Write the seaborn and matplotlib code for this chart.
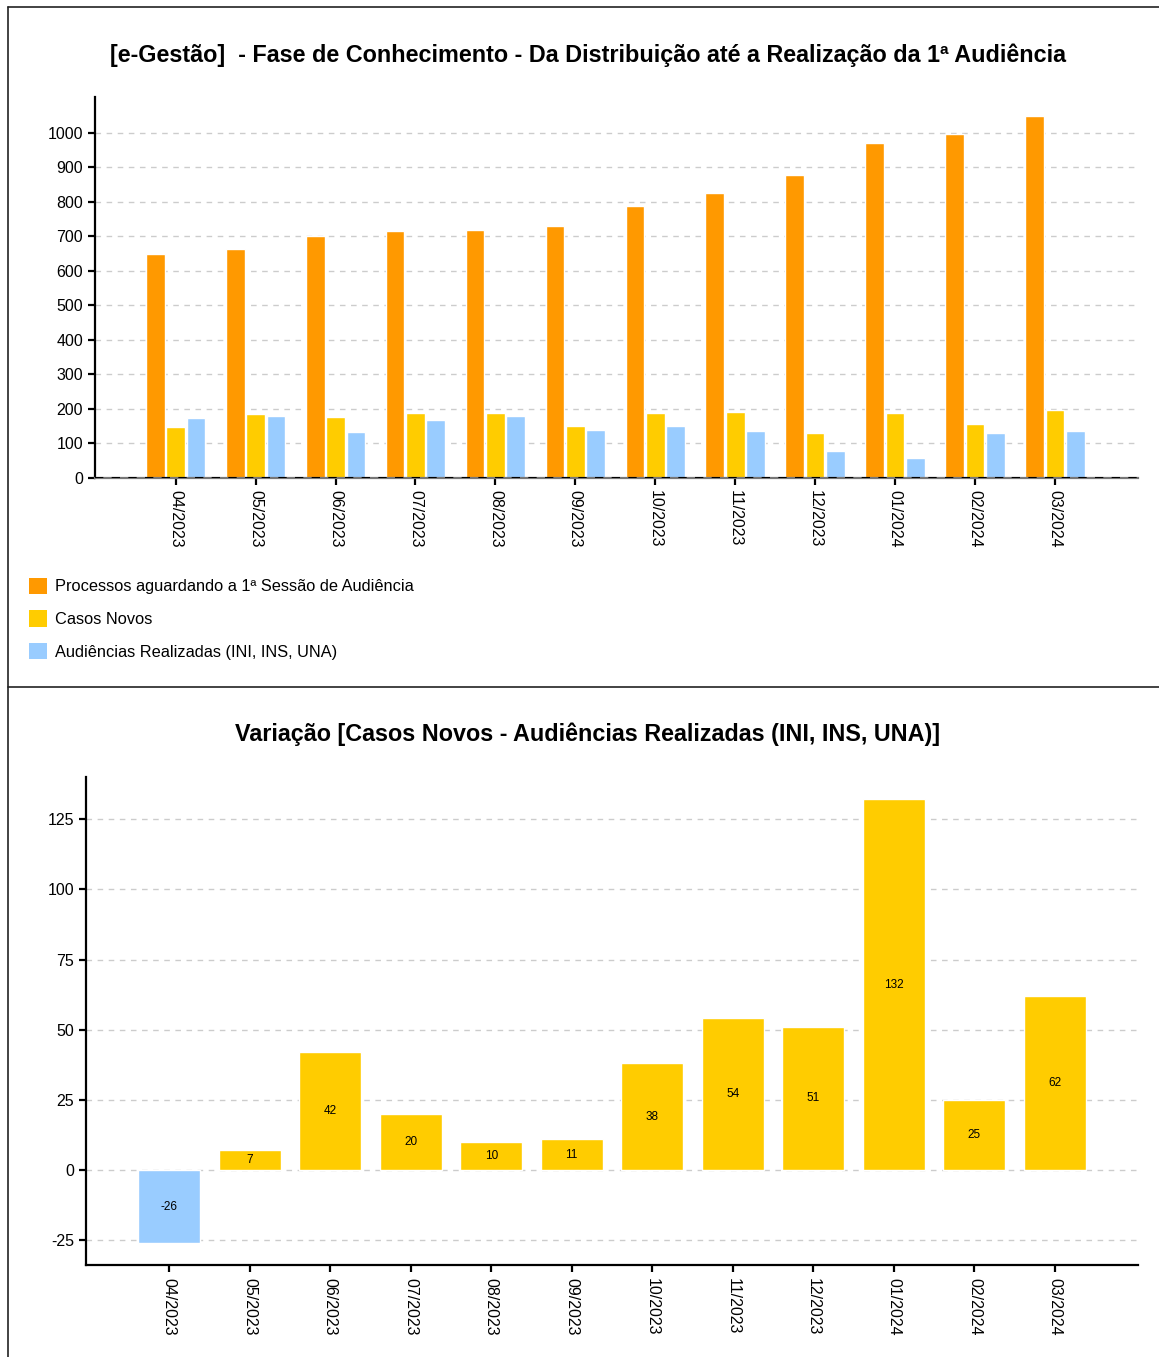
import numpy as np
import pandas as pd
import seaborn as sns
import matplotlib.pyplot as plt
from matplotlib.lines import Line2D
from matplotlib.patches import Patch

# ========================
# Datos
# ========================
meses = ["04/2023", "05/2023", "06/2023", "07/2023", "08/2023", "09/2023",
         "10/2023", "11/2023", "12/2023", "01/2024", "02/2024", "03/2024"]
aguardando = [648, 662, 700, 714, 717, 729, 787, 824, 876, 969, 995, 1047]
casos_novos = [147, 185, 174, 187, 188, 149, 188, 189, 128, 188, 155, 197]
audiencias = [173, 178, 132, 167, 178, 138, 150, 135, 77, 56, 130, 135]

series = ["Processos aguardando a 1ª Sessão de Audiência",
          "Casos Novos",
          "Audiências Realizadas (INI, INS, UNA)"]
cores = ["#FF9900", "#FFCC00", "#99CCFF"]

variacao = [c - a for c, a in zip(casos_novos, audiencias)]

df = pd.DataFrame({"Mes": meses, series[0]: aguardando,
                   series[1]: casos_novos, series[2]: audiencias})
df_long = df.melt(id_vars="Mes", var_name="Serie", value_name="Valor")

df_var = pd.DataFrame({"Mes": meses, "Variacao": variacao})
cores_var = {m: (cores[2] if v < 0 else cores[1]) for m, v in zip(meses, variacao)}

# ========================
# Estilo
# ========================
sns.set_theme(style="white")
plt.rcParams["font.family"] = ["Liberation Sans", "DejaVu Sans"]
plt.rcParams["text.color"] = "black"
plt.rcParams["xtick.color"] = "black"
plt.rcParams["ytick.color"] = "black"
plt.rcParams["axes.labelcolor"] = "black"
plt.rcParams["axes.unicode_minus"] = False

W, H = 1159, 1357
fig = plt.figure(figsize=(W / 100, H / 100), dpi=100)

grid_kw = dict(color="#cccccc", linestyle=(0, (4, 4)), linewidth=1.0)

# ========================
# Gráfico 1
# ========================
ax1 = fig.add_axes([95 / W, 1 - 477.5 / H, (1138 - 95) / W, (477.5 - 97) / H])
sns.barplot(data=df_long, x="Mes", y="Valor", hue="Serie", palette=cores,
            width=0.765, gap=0.08, saturation=1, ax=ax1, legend=False, zorder=2)
ax1.set_ylim(0, 1103)
ax1.set_xlim(-1.01, 12.04)
ax1.set_yticks(range(0, 1001, 100))
for v in range(100, 1001, 100):
    ax1.axhline(v, zorder=0, **grid_kw)
ax1.axhline(0, color="black", linestyle=(0, (4, 4)), linewidth=1.5, zorder=3)
ax1.set_xlabel("")
ax1.set_ylabel("")
for s in ["top", "right"]:
    ax1.spines[s].set_visible(False)
ax1.spines["left"].set_color("black")
ax1.spines["left"].set_linewidth(1.6)
ax1.spines["bottom"].set_color("#777777")
ax1.spines["bottom"].set_linewidth(1.6)
ax1.tick_params(axis="both", direction="out", length=5, width=1.6, color="black",
                labelcolor="black", labelsize=11.5, bottom=True, left=True)
ax1.tick_params(axis="x", labelrotation=270, pad=4)

fig.text(588 / W, 1 - 55 / H,
         "[e-Gestão]  - Fase de Conhecimento - Da Distribuição até a Realização da 1ª Audiência",
         ha="center", va="center", fontsize=16.8, fontweight="bold", color="black")

handles = [Patch(facecolor=c, edgecolor="none") for c in cores]
fig.legend(handles, series, loc="upper left", bbox_to_anchor=(22 / W, 1 - 571 / H),
           frameon=False, fontsize=11.8, handlelength=1.15, handleheight=1.15,
           labelspacing=0.98, handletextpad=0.45, borderaxespad=0)

# ========================
# Gráfico 2
# ========================
ax2 = fig.add_axes([86 / W, 1 - 1265 / H, (1138 - 86) / W, (1265 - 777) / H])
sns.barplot(data=df_var, x="Mes", y="Variacao", hue="Mes", palette=cores_var,
            width=0.77, saturation=1, ax=ax2, legend=False, zorder=2)
ax2.set_ylim(-33.8, 140)
ax2.set_xlim(-1.03, 12.03)
ax2.set_yticks(range(-25, 126, 25))
for v in range(-25, 126, 25):
    ax2.axhline(v, zorder=0, **grid_kw)
for cont in ax2.containers:
    ax2.bar_label(cont, label_type="center", fontsize=8.5, color="black")
ax2.set_xlabel("")
ax2.set_ylabel("")
for s in ["top", "right"]:
    ax2.spines[s].set_visible(False)
for s in ["left", "bottom"]:
    ax2.spines[s].set_color("black")
    ax2.spines[s].set_linewidth(1.6)
ax2.tick_params(axis="both", direction="out", length=5, width=1.6, color="black",
                labelcolor="black", labelsize=11.5, bottom=True, left=True)
ax2.tick_params(axis="x", labelrotation=270, pad=4)

fig.text(588 / W, 1 - 734 / H,
         "Variação [Casos Novos - Audiências Realizadas (INI, INS, UNA)]",
         ha="center", va="center", fontsize=16.8, fontweight="bold", color="black")

# ========================
# Moldura dos painéis
# ========================
x0 = 8 / W
fig.add_artist(Line2D([x0, 1], [1 - 7 / H, 1 - 7 / H], color="#222222", lw=1.2))
fig.add_artist(Line2D([x0, x0], [0, 1 - 7 / H], color="#222222", lw=1.2))
fig.add_artist(Line2D([x0, 1], [1 - 687 / H, 1 - 687 / H], color="#222222", lw=1.2))

fig.savefig("out.png", dpi=100)
